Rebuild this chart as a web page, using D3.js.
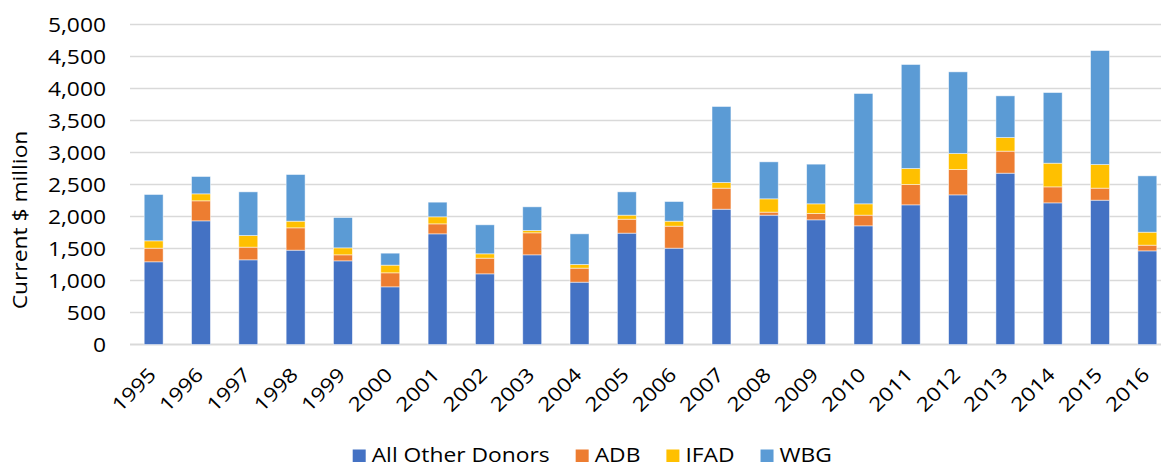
<!DOCTYPE html>
<meta charset="utf-8">
<style>
body { margin: 0; background: #fff; }
.grid line { stroke: #d9d9d9; stroke-width: 1.5; }
.tick text { fill: #000; }
</style>
<body>
<script src="https://cdn.jsdelivr.net/npm/d3@7"></script>
<script>

var years = ["1995","1996","1997","1998","1999","2000","2001","2002","2003","2004","2005",
             "2006","2007","2008","2009","2010","2011","2012","2013","2014","2015","2016"];

// stacked segment values, current $ million
var otherDonors = [1292,1932,1323,1474,1307,901,1729,1104,1401,974,1740,1505,2114,2021,1948,1854,2182,2338,2677,2213,2255,1463];
var adb         = [213,313,198,349,94,219,156,245,344,219,218,344,329,47,99,167,318,396,344,250,188,89];
var ifad        = [115,109,182,104,109,120,110,68,36,57,63,78,88,208,151,177,250,250,213,370,369,203];
var wbg         = [724,271,682,729,474,187,229,453,370,479,364,307,1188,578,620,1724,1625,1276,651,1104,1781,880];

var seriesNames = ["All Other Donors", "ADB", "IFAD", "WBG"];
var colors = ["#4472c4", "#ed7d31", "#ffc000", "#5b9bd5"];
var yTicks = [0,500,1000,1500,2000,2500,3000,3500,4000,4500,5000];

var width = 1161, height = 464;
var fontFamily = "'Open Sans', 'Noto Sans', sans-serif";
var fontSize = "19.5px";
var wide = 1.17;   // the original font runs wider than Open Sans

var svg = d3.select("body").append("svg")
  .attr("width", width)
  .attr("height", height)
  .style("font-family", fontFamily);

var rows = years.map(function(y, i) {
  return {year: y, "All Other Donors": otherDonors[i], "ADB": adb[i], "IFAD": ifad[i], "WBG": wbg[i]};
});

var stacked = d3.stack().keys(seriesNames)(rows);

var x = d3.scaleBand()
  .domain(years)
  .range([130, 1171])
  .paddingInner(0.6)
  .paddingOuter(0.3);

var y = d3.scaleLinear()
  .domain([0, 5000])
  .range([344.5, 24.5]);

// gridlines
svg.append("g")
  .attr("class", "grid")
  .selectAll("line")
  .data(yTicks)
  .enter().append("line")
  .attr("x1", 130)
  .attr("x2", 1171)
  .attr("y1", function(d) { return y(d); })
  .attr("y2", function(d) { return y(d); })
  .style("stroke-width", function(d) { return d == 0 ? 2 : 1.5; });

// y axis labels
var yAxis = svg.append("g")
  .attr("transform", "translate(106,0)")
  .call(d3.axisLeft(y).tickValues(yTicks).tickSize(0).tickPadding(0).tickFormat(d3.format(",")));
yAxis.attr("font-family", null).attr("font-size", null);
yAxis.select(".domain").remove();
yAxis.selectAll("text")
  .attr("x", 0)
  .attr("dy", "0.36em")
  .attr("transform", "scale(" + wide + ",1)")
  .style("font-family", fontFamily)
  .style("font-size", fontSize);

svg.append("text")
  .attr("transform", "translate(26.5,220) rotate(-90) scale(" + wide + ",1)")
  .attr("text-anchor", "middle")
  .style("font-family", fontFamily)
  .style("font-size", fontSize)
  .text("Current $ million");

// bars
svg.append("g")
  .selectAll("g")
  .data(stacked)
  .enter().append("g")
  .attr("fill", function(d, i) { return colors[i]; })
  .selectAll("rect")
  .data(function(d) { return d; })
  .enter().append("rect")
  .attr("x", function(d) { return x(d.data.year); })
  .attr("y", function(d) { return y(d[1]); })
  .attr("width", x.bandwidth())
  .attr("height", function(d) { return y(d[0]) - y(d[1]); })
  .attr("stroke", "#ffffff")
  .attr("stroke-opacity", 0.6)
  .attr("stroke-width", 0.8);

// x axis labels
var xAxis = svg.append("g")
  .attr("transform", "translate(0,352)")
  .call(d3.axisBottom(x).tickSize(0).tickPadding(0));
xAxis.attr("font-family", null).attr("font-size", null);
xAxis.select(".domain").remove();
xAxis.selectAll("text")
  .attr("text-anchor", "end")
  .attr("y", 0)
  .attr("dy", 0)
  .style("font-family", fontFamily)
  .style("font-size", fontSize)
  .attr("transform", "translate(3.5,24) rotate(-45) scale(" + wide + ",1)");

// legend
var legend = svg.append("g").attr("transform", "translate(352.7,449.5)");
var lx = 0;
seriesNames.forEach(function(name, i) {
  var g = legend.append("g").attr("transform", "translate(" + lx + ",0)");
  g.append("rect")
    .attr("width", 13)
    .attr("height", 12.5)
    .attr("fill", colors[i]);
  var t = g.append("text")
    .attr("transform", "translate(19,12) scale(" + wide + ",1)")
    .style("font-family", fontFamily)
    .style("font-size", fontSize)
    .text(name);
  lx += 19 + t.node().getComputedTextLength() * wide + 26;
});

</script>
</body>
